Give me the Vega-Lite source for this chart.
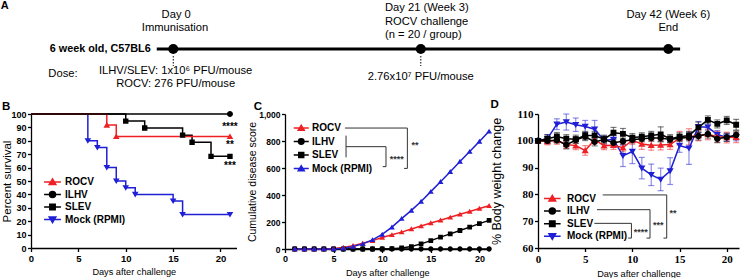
{
  "$schema": "https://vega.github.io/schema/vega-lite/v6.json",
  "padding": 0,
  "spacing": 7,
  "config": {
    "view": {"stroke": null},
    "font": "Liberation Sans",
    "axis": {"domainColor": "black", "domainWidth": 1.3, "tickColor": "black", "tickWidth": 1.3, "tickSize": 3.5, "labelPadding": 1.5, "labelFont": "Liberation Sans", "labelFontWeight": "bold", "labelColor": "black", "titleFont": "Liberation Sans", "titleFontWeight": "normal", "titleColor": "black", "grid": false, "titlePadding": 3, "labelOverlap": false, "labelFlush": false},
    "axisX": {"titlePadding": 5},
    "title": {"anchor": "start", "frame": "bounds", "fontSize": 11.5, "fontWeight": "bold", "font": "Liberation Sans", "color": "black", "offset": -2},
    "legend": {"padding": 0, "labelFont": "Liberation Sans", "labelFontWeight": "bold", "labelColor": "black", "labelFontSize": 10, "title": null, "symbolStrokeWidth": 1.5, "symbolOpacity": 1}
  },
  "datasets": {
    "timelineText": [
      {"day": 0.25, "y": 14, "t": "Day 0"},
      {"day": 0.15, "y": 27, "t": "Immunisation"},
      {"day": 42, "y": 14, "t": "Day 42 (Week 6)"},
      {"day": 42, "y": 26.5, "t": "End"},
      {"day": 0.2, "y": 70, "t": "ILHV/SLEV: 1x10⁶ PFU/mouse"},
      {"day": 0.2, "y": 83, "t": "ROCV: 276 PFU/mouse"},
      {"day": 21, "y": 76, "t": "2.76x10⁷ PFU/mouse"},
      {"day": -9.36, "y": 73, "t": "Dose:"}
    ],
    "timelineLeft": [
      {"day": 17.96, "y": 7, "t": "Day 21 (Week 3)"},
      {"day": 17.96, "y": 20.7, "t": "ROCV challenge"},
      {"day": 17.96, "y": 34.3, "t": "(n = 20 / group)"}
    ],
    "events": [
      {"day": 0, "y": 48, "y2": 55, "y3": 65},
      {"day": 21, "y": 48, "y2": 55, "y3": 65},
      {"day": 42, "y": 48, "y2": 55, "y3": 65}
    ],
    "surv": [
      {"group": "Mock (RPMI)", "day": 0, "pct": 100, "event": false},
      {"group": "Mock (RPMI)", "day": 6, "pct": 80, "event": true},
      {"group": "Mock (RPMI)", "day": 7, "pct": 75, "event": true},
      {"group": "Mock (RPMI)", "day": 8, "pct": 60, "event": true},
      {"group": "Mock (RPMI)", "day": 9, "pct": 50, "event": true},
      {"group": "Mock (RPMI)", "day": 10, "pct": 45, "event": true},
      {"group": "Mock (RPMI)", "day": 11, "pct": 40, "event": true},
      {"group": "Mock (RPMI)", "day": 15, "pct": 35, "event": true},
      {"group": "Mock (RPMI)", "day": 16, "pct": 25, "event": true},
      {"group": "Mock (RPMI)", "day": 21, "pct": 25, "event": true},
      {"group": "SLEV", "day": 0, "pct": 100, "event": false},
      {"group": "SLEV", "day": 10, "pct": 94.7, "event": true},
      {"group": "SLEV", "day": 12, "pct": 89.5, "event": true},
      {"group": "SLEV", "day": 16, "pct": 84.2, "event": true},
      {"group": "SLEV", "day": 17, "pct": 78.9, "event": true},
      {"group": "SLEV", "day": 19, "pct": 68.4, "event": true},
      {"group": "SLEV", "day": 21, "pct": 68.4, "event": true},
      {"group": "ROCV", "day": 0, "pct": 100, "event": false},
      {"group": "ROCV", "day": 8, "pct": 91.7, "event": true},
      {"group": "ROCV", "day": 9, "pct": 83.3, "event": true},
      {"group": "ROCV", "day": 21, "pct": 83.3, "event": true},
      {"group": "ILHV", "day": 0, "pct": 100, "event": false},
      {"group": "ILHV", "day": 21, "pct": 100, "event": true}
    ],
    "survStars": [
      {"day": 21, "pct": 90.6, "label": "****"},
      {"day": 21, "pct": 76.6, "label": "**"},
      {"day": 21, "pct": 60.9, "label": "***"}
    ],
    "score": [
      {"group": "ILHV", "day": 1, "score": 0}, {"group": "ILHV", "day": 2, "score": 0}, {"group": "ILHV", "day": 3, "score": 0}, {"group": "ILHV", "day": 4, "score": 0}, {"group": "ILHV", "day": 5, "score": 0}, {"group": "ILHV", "day": 6, "score": 0}, {"group": "ILHV", "day": 7, "score": 0}, {"group": "ILHV", "day": 8, "score": 0}, {"group": "ILHV", "day": 9, "score": 0}, {"group": "ILHV", "day": 10, "score": 0}, {"group": "ILHV", "day": 11, "score": 0}, {"group": "ILHV", "day": 12, "score": 0}, {"group": "ILHV", "day": 13, "score": 0}, {"group": "ILHV", "day": 14, "score": 0}, {"group": "ILHV", "day": 15, "score": 0}, {"group": "ILHV", "day": 16, "score": 0}, {"group": "ILHV", "day": 17, "score": 0}, {"group": "ILHV", "day": 18, "score": 0}, {"group": "ILHV", "day": 19, "score": 0}, {"group": "ILHV", "day": 20, "score": 0}, {"group": "ILHV", "day": 21, "score": 0},
      {"group": "SLEV", "day": 1, "score": 0}, {"group": "SLEV", "day": 2, "score": 0}, {"group": "SLEV", "day": 3, "score": 0}, {"group": "SLEV", "day": 4, "score": 0}, {"group": "SLEV", "day": 5, "score": 0}, {"group": "SLEV", "day": 6, "score": 0}, {"group": "SLEV", "day": 7, "score": 0}, {"group": "SLEV", "day": 8, "score": 0}, {"group": "SLEV", "day": 9, "score": 0}, {"group": "SLEV", "day": 10, "score": 0}, {"group": "SLEV", "day": 11, "score": 2}, {"group": "SLEV", "day": 12, "score": 8}, {"group": "SLEV", "day": 13, "score": 18}, {"group": "SLEV", "day": 14, "score": 38}, {"group": "SLEV", "day": 15, "score": 62}, {"group": "SLEV", "day": 16, "score": 88}, {"group": "SLEV", "day": 17, "score": 112}, {"group": "SLEV", "day": 18, "score": 137}, {"group": "SLEV", "day": 19, "score": 162}, {"group": "SLEV", "day": 20, "score": 188}, {"group": "SLEV", "day": 21, "score": 212},
      {"group": "ROCV", "day": 1, "score": 0}, {"group": "ROCV", "day": 2, "score": 0}, {"group": "ROCV", "day": 3, "score": 0}, {"group": "ROCV", "day": 4, "score": 0}, {"group": "ROCV", "day": 5, "score": 3}, {"group": "ROCV", "day": 6, "score": 12}, {"group": "ROCV", "day": 7, "score": 25}, {"group": "ROCV", "day": 8, "score": 42}, {"group": "ROCV", "day": 9, "score": 62}, {"group": "ROCV", "day": 10, "score": 85}, {"group": "ROCV", "day": 11, "score": 105}, {"group": "ROCV", "day": 12, "score": 125}, {"group": "ROCV", "day": 13, "score": 148}, {"group": "ROCV", "day": 14, "score": 170}, {"group": "ROCV", "day": 15, "score": 193}, {"group": "ROCV", "day": 16, "score": 213}, {"group": "ROCV", "day": 17, "score": 235}, {"group": "ROCV", "day": 18, "score": 257}, {"group": "ROCV", "day": 19, "score": 278}, {"group": "ROCV", "day": 20, "score": 300}, {"group": "ROCV", "day": 21, "score": 321},
      {"group": "Mock (RPMI)", "day": 1, "score": 0}, {"group": "Mock (RPMI)", "day": 2, "score": 0}, {"group": "Mock (RPMI)", "day": 3, "score": 0}, {"group": "Mock (RPMI)", "day": 4, "score": 0}, {"group": "Mock (RPMI)", "day": 5, "score": 0}, {"group": "Mock (RPMI)", "day": 6, "score": 5}, {"group": "Mock (RPMI)", "day": 7, "score": 18}, {"group": "Mock (RPMI)", "day": 8, "score": 38}, {"group": "Mock (RPMI)", "day": 9, "score": 68}, {"group": "Mock (RPMI)", "day": 10, "score": 108}, {"group": "Mock (RPMI)", "day": 11, "score": 162}, {"group": "Mock (RPMI)", "day": 12, "score": 225}, {"group": "Mock (RPMI)", "day": 13, "score": 286}, {"group": "Mock (RPMI)", "day": 14, "score": 352}, {"group": "Mock (RPMI)", "day": 15, "score": 425}, {"group": "Mock (RPMI)", "day": 16, "score": 498}, {"group": "Mock (RPMI)", "day": 17, "score": 573}, {"group": "Mock (RPMI)", "day": 18, "score": 648}, {"group": "Mock (RPMI)", "day": 19, "score": 722}, {"group": "Mock (RPMI)", "day": 20, "score": 797}, {"group": "Mock (RPMI)", "day": 21, "score": 872}
    ],
    "scoreBr": [
      {"day": 6.17, "day2": 12.59, "score": 896, "score2": 896},
      {"day": 12.59, "day2": 12.59, "score": 896, "score2": 597},
      {"day": 12.25, "day2": 12.59, "score": 597, "score2": 597},
      {"day": 6.28, "day2": 6.28, "score": 840, "score2": 679},
      {"day": 6.28, "day2": 10.39, "score": 758, "score2": 758},
      {"day": 10.39, "day2": 10.39, "score": 758, "score2": 610},
      {"day": 10.05, "day2": 10.39, "score": 610, "score2": 610}
    ],
    "scoreStars": [
      {"day": 13.38, "score": 769, "label": "**"},
      {"day": 11.49, "score": 670, "label": "****"}
    ],
    "weight": [
      {"group": "Mock (RPMI)", "day": 0, "w": 100, "se": 0.5}, {"group": "Mock (RPMI)", "day": 1, "w": 100.8, "se": 1.5}, {"group": "Mock (RPMI)", "day": 2, "w": 106.2, "se": 2}, {"group": "Mock (RPMI)", "day": 3, "w": 107, "se": 3}, {"group": "Mock (RPMI)", "day": 4, "w": 106, "se": 2.5}, {"group": "Mock (RPMI)", "day": 5, "w": 105.3, "se": 2.3}, {"group": "Mock (RPMI)", "day": 6, "w": 104.3, "se": 3.3}, {"group": "Mock (RPMI)", "day": 7, "w": 100.2, "se": 1.5}, {"group": "Mock (RPMI)", "day": 8, "w": 100.5, "se": 1.5}, {"group": "Mock (RPMI)", "day": 9, "w": 94.4, "se": 4}, {"group": "Mock (RPMI)", "day": 10, "w": 96, "se": 4.5}, {"group": "Mock (RPMI)", "day": 11, "w": 89.8, "se": 4}, {"group": "Mock (RPMI)", "day": 12, "w": 87.3, "se": 4}, {"group": "Mock (RPMI)", "day": 13, "w": 85.6, "se": 4.2}, {"group": "Mock (RPMI)", "day": 14, "w": 88.7, "se": 5}, {"group": "Mock (RPMI)", "day": 15, "w": 98.2, "se": 2.5}, {"group": "Mock (RPMI)", "day": 16, "w": 97.2, "se": 6}, {"group": "Mock (RPMI)", "day": 17, "w": 105.2, "se": 2}, {"group": "Mock (RPMI)", "day": 18, "w": 105.1, "se": 2}, {"group": "Mock (RPMI)", "day": 19, "w": 102.3, "se": 1.5}, {"group": "Mock (RPMI)", "day": 20, "w": 101.3, "se": 1.5}, {"group": "Mock (RPMI)", "day": 21, "w": 101.5, "se": 1.5},
      {"group": "ROCV", "day": 0, "w": 100, "se": 0.5}, {"group": "ROCV", "day": 1, "w": 99.7, "se": 1.2}, {"group": "ROCV", "day": 2, "w": 100.2, "se": 1.5}, {"group": "ROCV", "day": 3, "w": 98.6, "se": 1.5}, {"group": "ROCV", "day": 4, "w": 98.2, "se": 1.5}, {"group": "ROCV", "day": 5, "w": 96.4, "se": 1.8}, {"group": "ROCV", "day": 6, "w": 100.4, "se": 1.5}, {"group": "ROCV", "day": 7, "w": 98.2, "se": 1.5}, {"group": "ROCV", "day": 8, "w": 98.3, "se": 1.5}, {"group": "ROCV", "day": 9, "w": 97.4, "se": 1.5}, {"group": "ROCV", "day": 10, "w": 100.2, "se": 1.5}, {"group": "ROCV", "day": 11, "w": 98.8, "se": 2}, {"group": "ROCV", "day": 12, "w": 98.3, "se": 1.8}, {"group": "ROCV", "day": 13, "w": 98.4, "se": 1.8}, {"group": "ROCV", "day": 14, "w": 98.6, "se": 1.8}, {"group": "ROCV", "day": 15, "w": 101, "se": 2.5}, {"group": "ROCV", "day": 16, "w": 101.5, "se": 3}, {"group": "ROCV", "day": 17, "w": 102, "se": 2}, {"group": "ROCV", "day": 18, "w": 102.4, "se": 2}, {"group": "ROCV", "day": 19, "w": 101.5, "se": 2}, {"group": "ROCV", "day": 20, "w": 101.2, "se": 2}, {"group": "ROCV", "day": 21, "w": 101.3, "se": 2},
      {"group": "ILHV", "day": 0, "w": 100, "se": 0.5}, {"group": "ILHV", "day": 1, "w": 100, "se": 1}, {"group": "ILHV", "day": 2, "w": 100.2, "se": 1}, {"group": "ILHV", "day": 3, "w": 98.5, "se": 1.5}, {"group": "ILHV", "day": 4, "w": 100.3, "se": 1.2}, {"group": "ILHV", "day": 5, "w": 101.6, "se": 1.5}, {"group": "ILHV", "day": 6, "w": 99.6, "se": 1.5}, {"group": "ILHV", "day": 7, "w": 100.5, "se": 1.2}, {"group": "ILHV", "day": 8, "w": 99.3, "se": 1.2}, {"group": "ILHV", "day": 9, "w": 99.8, "se": 1.2}, {"group": "ILHV", "day": 10, "w": 100.4, "se": 1.2}, {"group": "ILHV", "day": 11, "w": 100.8, "se": 1.2}, {"group": "ILHV", "day": 12, "w": 101, "se": 1.2}, {"group": "ILHV", "day": 13, "w": 101, "se": 1.2}, {"group": "ILHV", "day": 14, "w": 100.5, "se": 1.2}, {"group": "ILHV", "day": 15, "w": 101, "se": 1.2}, {"group": "ILHV", "day": 16, "w": 101.2, "se": 1.2}, {"group": "ILHV", "day": 17, "w": 101.8, "se": 1.5}, {"group": "ILHV", "day": 18, "w": 102.5, "se": 1.5}, {"group": "ILHV", "day": 19, "w": 100.8, "se": 1.5}, {"group": "ILHV", "day": 20, "w": 101.3, "se": 1.5}, {"group": "ILHV", "day": 21, "w": 102.2, "se": 1.5},
      {"group": "SLEV", "day": 0, "w": 100, "se": 0.5}, {"group": "SLEV", "day": 1, "w": 100.8, "se": 1.5}, {"group": "SLEV", "day": 2, "w": 101.6, "se": 1.5}, {"group": "SLEV", "day": 3, "w": 100.8, "se": 1.5}, {"group": "SLEV", "day": 4, "w": 100.6, "se": 1.5}, {"group": "SLEV", "day": 5, "w": 102, "se": 1.5}, {"group": "SLEV", "day": 6, "w": 102, "se": 1.5}, {"group": "SLEV", "day": 7, "w": 100.6, "se": 1.5}, {"group": "SLEV", "day": 8, "w": 103, "se": 2}, {"group": "SLEV", "day": 9, "w": 102.6, "se": 2}, {"group": "SLEV", "day": 10, "w": 101.2, "se": 1.5}, {"group": "SLEV", "day": 11, "w": 101.5, "se": 1.5}, {"group": "SLEV", "day": 12, "w": 102, "se": 1.5}, {"group": "SLEV", "day": 13, "w": 102.4, "se": 2.8}, {"group": "SLEV", "day": 14, "w": 100.8, "se": 1.5}, {"group": "SLEV", "day": 15, "w": 101.5, "se": 1.5}, {"group": "SLEV", "day": 16, "w": 102, "se": 1.5}, {"group": "SLEV", "day": 17, "w": 105, "se": 2}, {"group": "SLEV", "day": 18, "w": 107.8, "se": 1.5}, {"group": "SLEV", "day": 19, "w": 106.3, "se": 1.5}, {"group": "SLEV", "day": 20, "w": 107.6, "se": 1.5}, {"group": "SLEV", "day": 21, "w": 106, "se": 2}
    ],
    "weightBr": [
      {"day": 6.86, "day2": 13.64, "w": 79.8, "w2": 79.8},
      {"day": 13.64, "day2": 13.64, "w": 79.8, "w2": 63.7},
      {"day": 13.3, "day2": 13.64, "w": 63.7, "w2": 63.7},
      {"day": 6.25, "day2": 11.87, "w": 74.3, "w2": 74.3},
      {"day": 11.87, "day2": 11.87, "w": 74.3, "w2": 63.7},
      {"day": 11.5, "day2": 11.87, "w": 63.7, "w2": 63.7},
      {"day": 5.97, "day2": 9.9, "w": 69.2, "w2": 69.2},
      {"day": 9.9, "day2": 9.9, "w": 69.2, "w2": 63.7},
      {"day": 9.55, "day2": 9.9, "w": 63.7, "w2": 63.7}
    ],
    "weightStars": [
      {"day": 14.3, "w": 73.0, "label": "**"},
      {"day": 12.75, "w": 68.75, "label": "***"},
      {"day": 10.9, "w": 65.95, "label": "****"}
    ]
  },
  "vconcat": [
    {
      "width": 709,
      "height": 90,
      "encoding": {
        "x": {"field": "day", "type": "quantitative", "scale": {"domain": [-12.07, 48.08], "nice": false, "zero": false}, "axis": null},
        "y": {"field": "y", "type": "quantitative", "scale": {"domain": [0, 90], "reverse": true, "nice": false, "zero": false}, "axis": null}
      },
      "layer": [
        {"data": {"values": [{"day": -1.4, "day2": 43, "y": 48}]}, "mark": {"type": "rule", "strokeWidth": 3, "color": "black"}, "encoding": {"x2": {"field": "day2"}}},
        {"data": {"name": "events"}, "transform": [{"filter": "datum.day < 40"}], "mark": {"type": "rule", "strokeWidth": 1, "strokeDash": [1.5, 1.5], "color": "black"}, "encoding": {"y": {"field": "y2", "type": "quantitative"}, "y2": {"field": "y3"}}},
        {"data": {"name": "events"}, "mark": {"type": "point", "filled": true, "size": 100, "color": "black", "opacity": 1}},
        {"data": {"name": "timelineText"}, "mark": {"type": "text", "fontSize": 11.2, "align": "center", "baseline": "middle", "color": "black"}, "encoding": {"text": {"field": "t"}}},
        {"data": {"name": "timelineLeft"}, "mark": {"type": "text", "fontSize": 11.2, "align": "left", "baseline": "middle", "color": "black"}, "encoding": {"text": {"field": "t"}}},
        {"data": {"values": [{"day": -1.92, "y": 48, "t": "6 week old, C57BL6"}]}, "mark": {"type": "text", "fontSize": 10.8, "fontWeight": "bold", "align": "right", "baseline": "middle", "color": "black"}, "encoding": {"text": {"field": "t"}}},
        {"data": {"values": [{"day": -14.3, "y": 5, "t": "A"}]}, "mark": {"type": "text", "fontSize": 11, "fontWeight": "bold", "align": "center", "baseline": "middle", "color": "black"}, "encoding": {"text": {"field": "t"}}}
      ]
    },
    {
      "resolve": {"scale": {"color": "independent", "shape": "independent", "stroke": "independent"}, "legend": {"color": "independent", "shape": "independent", "stroke": "independent"}},
      "hconcat": [
        {
          "width": 205.5,
          "height": 134,
          "title": {"text": "B"},
          "encoding": {
            "x": {"field": "day", "type": "quantitative", "scale": {"domain": [0, 21.69], "nice": false}, "axis": {"values": [0, 5, 10, 15, 20], "title": "Days after challenge", "titleFontSize": 9.2, "labelFontSize": 9.5}},
            "y": {"field": "pct", "type": "quantitative", "scale": {"domain": [0, 100], "nice": false}, "axis": {"values": [0, 10, 20, 30, 40, 50, 60, 70, 80, 90, 100], "title": "Percent survival", "titleFontSize": 11.5, "labelFontSize": 9, "titlePadding": -2}},
            "color": {"field": "group", "type": "nominal", "scale": {"domain": ["ROCV", "ILHV", "SLEV", "Mock (RPMI)"], "range": ["#ee2024", "#000000", "#000000", "#1f1fd6"]},
              "legend": {"orient": "none", "legendX": 16.5, "legendY": 63, "symbolSize": 36, "labelOffset": 7.5, "rowPadding": 0.5, "symbolStrokeWidth": 1.5, "symbolOpacity": 1}}
          },
          "layer": [
            {"data": {"name": "surv"}, "mark": {"type": "line", "interpolate": "step-after", "strokeWidth": 1.5}},
            {"data": {"name": "surv"}, "transform": [{"filter": "datum.event"}], "mark": {"type": "point", "filled": true, "size": 36, "opacity": 1, "strokeWidth": 0},
              "encoding": {
                "shape": {"field": "group", "type": "nominal", "scale": {"domain": ["ROCV", "ILHV", "SLEV", "Mock (RPMI)"], "range": ["M-2.8,0H2.8M0,-1L1.1,0.85L-1.1,0.85Z", "M-2.8,0H2.8M1,0A1,1,0,1,1,-1,0A1,1,0,1,1,1,0Z", "M-2.8,0H2.8M-0.9,-0.9H0.9V0.9H-0.9Z", "M-2.8,0H2.8M0,1L1.1,-0.85L-1.1,-0.85Z"]}},
                "stroke": {"field": "group", "type": "nominal", "scale": {"domain": ["ROCV", "ILHV", "SLEV", "Mock (RPMI)"], "range": ["#ee2024", "#000000", "#000000", "#1f1fd6"]}}
              }},
            {"data": {"name": "survStars"}, "mark": {"type": "text", "fontWeight": "bold", "fontSize": 10, "align": "center", "baseline": "middle"}, "encoding": {"text": {"field": "label"}, "color": {"value": "black"}}}
          ]
        },
        {
          "width": 204.5,
          "height": 135,
          "title": {"text": "C", "dx": 6},
          "encoding": {
            "x": {"field": "day", "type": "quantitative", "scale": {"domain": [0, 21.04], "nice": false}, "axis": {"values": [0, 5, 10, 15, 20], "title": "Days after challenge", "titleFontSize": 9.2, "labelFontSize": 9}},
            "y": {"field": "score", "type": "quantitative", "scale": {"domain": [0, 1000], "nice": false}, "axis": {"values": [0, 200, 400, 600, 800, 1000], "title": "Cumulative disease score", "titleFontSize": 10.5, "labelFontSize": 8.5, "titlePadding": 1}},
            "color": {"field": "group", "type": "nominal", "scale": {"domain": ["ROCV", "ILHV", "SLEV", "Mock (RPMI)"], "range": ["#ee2024", "#000000", "#000000", "#1f1fd6"]},
              "legend": {"orient": "none", "legendX": 11.25, "legendY": 9, "symbolSize": 30, "labelOffset": 5.75, "rowPadding": 1.5, "symbolStrokeWidth": 1.5, "symbolOpacity": 1}}
          },
          "layer": [
            {"data": {"name": "score"}, "mark": {"type": "line", "strokeWidth": 1.5}},
            {"data": {"name": "score"}, "mark": {"type": "point", "filled": true, "size": 28, "opacity": 1, "strokeWidth": 0},
              "encoding": {
                "shape": {"field": "group", "type": "nominal", "scale": {"domain": ["ROCV", "ILHV", "SLEV", "Mock (RPMI)"], "range": ["M-2.74,0H2.74M0,-1L1.1,0.85L-1.1,0.85Z", "M-2.74,0H2.74M1,0A1,1,0,1,1,-1,0A1,1,0,1,1,1,0Z", "M-2.74,0H2.74M-0.9,-0.9H0.9V0.9H-0.9Z", "M-2.74,0H2.74M0,-1L1.1,0.85L-1.1,0.85Z"]}},
                "stroke": {"field": "group", "type": "nominal", "scale": {"domain": ["ROCV", "ILHV", "SLEV", "Mock (RPMI)"], "range": ["#ee2024", "#000000", "#000000", "#1f1fd6"]}}
              }},
            {"data": {"name": "scoreBr"}, "mark": {"type": "rule", "strokeWidth": 1, "color": "#333333"}, "encoding": {"x2": {"field": "day2"}, "y2": {"field": "score2"}, "color": {"value": "#333333"}}},
            {"data": {"name": "scoreStars"}, "mark": {"type": "text", "fontWeight": "bold", "fontSize": 9, "align": "center", "baseline": "middle"}, "encoding": {"text": {"field": "label"}, "color": {"value": "#333333"}}}
          ]
        },
        {
          "width": 201,
          "height": 134,
          "title": {"text": "D"},
          "encoding": {
            "x": {"field": "day", "type": "quantitative", "scale": {"domain": [0, 21.3], "nice": false}, "axis": {"values": [0, 5, 10, 15, 20], "title": "Days after challenge", "titleFontSize": 9.2, "labelFontSize": 11, "labelFont": "Liberation Serif"}},
            "y": {"field": "w", "type": "quantitative", "scale": {"domain": [60, 110], "nice": false, "zero": false}, "axis": {"values": [60, 70, 80, 90, 100, 110], "title": "% Body weight change", "titleFontSize": 12.5, "labelFontSize": 11, "labelFont": "Liberation Serif", "titlePadding": 13}},
            "color": {"field": "group", "type": "nominal", "scale": {"domain": ["ROCV", "ILHV", "SLEV", "Mock (RPMI)"], "range": ["#ee2024", "#000000", "#000000", "#1f1fd6"]},
              "legend": {"orient": "none", "legendX": 9.3, "legendY": 79.5, "symbolSize": 36, "labelOffset": 9.7, "rowPadding": 0.6, "symbolStrokeWidth": 1.5, "symbolOpacity": 1}}
          },
          "layer": [
            {"data": {"name": "weight"}, "mark": {"type": "errorbar", "ticks": {"size": 6}, "opacity": 0.5, "thickness": 1.2}, "encoding": {"yError": {"field": "se"}}},
            {"data": {"name": "weight"}, "mark": {"type": "line", "strokeWidth": 1.5}},
            {"data": {"name": "weight"}, "mark": {"type": "point", "filled": true, "size": 42, "opacity": 1, "strokeWidth": 0},
              "encoding": {
                "shape": {"field": "group", "type": "nominal", "scale": {"domain": ["ROCV", "ILHV", "SLEV", "Mock (RPMI)"], "range": ["M-2.77,0H2.77M0,-1L1.1,0.85L-1.1,0.85Z", "M-2.77,0H2.77M1,0A1,1,0,1,1,-1,0A1,1,0,1,1,1,0Z", "M-2.77,0H2.77M-0.9,-0.9H0.9V0.9H-0.9Z", "M-2.77,0H2.77M0,1L1.1,-0.85L-1.1,-0.85Z"]}},
                "stroke": {"field": "group", "type": "nominal", "scale": {"domain": ["ROCV", "ILHV", "SLEV", "Mock (RPMI)"], "range": ["#ee2024", "#000000", "#000000", "#1f1fd6"]}}
              }},
            {"data": {"name": "weightBr"}, "mark": {"type": "rule", "strokeWidth": 1, "color": "#333333"}, "encoding": {"x2": {"field": "day2"}, "y2": {"field": "w2"}, "color": {"value": "#333333"}}},
            {"data": {"name": "weightStars"}, "mark": {"type": "text", "fontWeight": "bold", "fontSize": 9, "align": "center", "baseline": "middle"}, "encoding": {"text": {"field": "label"}, "color": {"value": "#333333"}}}
          ]
        }
      ],
      "spacing": 48,
      "bounds": "flush"
    }
  ]
}
